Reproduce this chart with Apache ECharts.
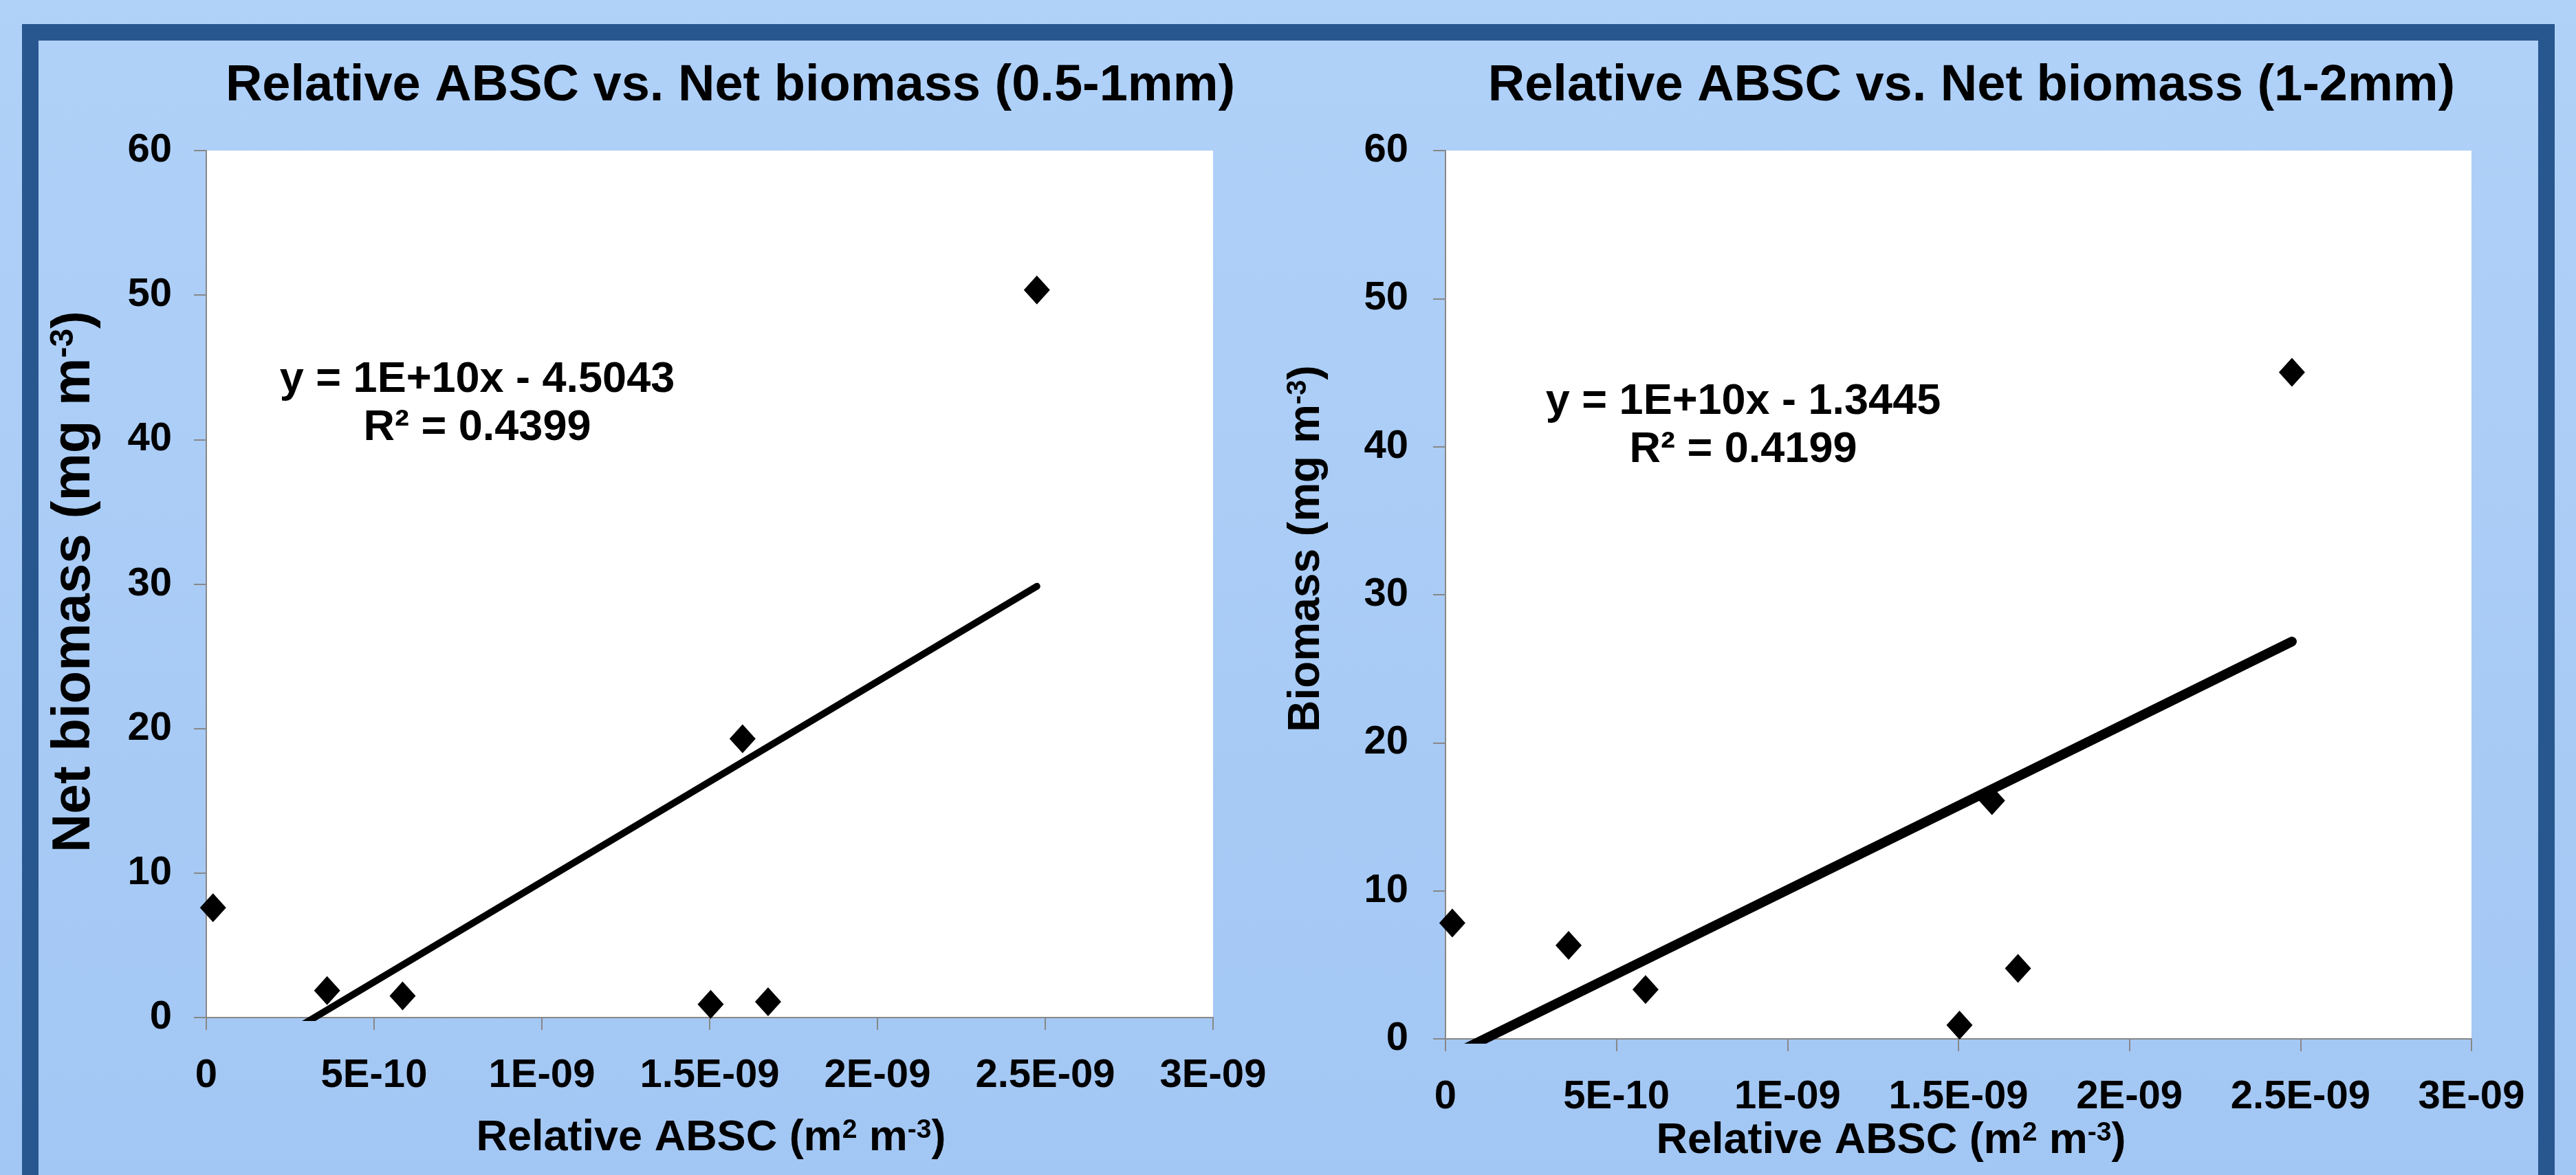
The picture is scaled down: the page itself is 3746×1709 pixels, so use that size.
<!DOCTYPE html>
<html><head><meta charset="utf-8">
<style>html,body{margin:0;padding:0;background:#AACCF6;} #c{width:3746px;height:1709px;}</style>
<script src="https://cdn.jsdelivr.net/npm/echarts@6/dist/echarts.min.js"></script>
</head><body><div id="c"></div>
<script>
// ---- data ----
const absc = [2e-11, 3.6e-10, 5.85e-10, 1.503e-9, 1.598e-9, 1.674e-9, 2.475e-9];
const netBiomassFine = [7.6, 1.87, 1.5, 0.91, 19.3, 1.09, 50.35];     // 0.5-1mm
const biomassCoarse = [7.82, 6.31, 3.33, 0.93, 16.09, 4.76, 45.02];   // 1-2mm
const xTickLabels = ['0', '5E-10', '1E-09', '1.5E-09', '2E-09', '2.5E-09', '3E-09'];
const yTickLabels = ['0', '10', '20', '30', '40', '50', '60'];
const chartTitles = ['Relative ABSC vs. Net biomass (0.5-1mm)', 'Relative ABSC vs. Net biomass (1-2mm)'];
const equationsFine = ['y = 1E+10x - 4.5043', 'R² = 0.4399'];
const equationsCoarse = ['y = 1E+10x - 1.3445', 'R² = 0.4199'];

const FONT = '"Liberation Sans", Arial, Helvetica, sans-serif';

function linFit(xs, ys) {
  const n = xs.length;
  const mx = xs.reduce((a, b) => a + b, 0) / n;
  const my = ys.reduce((a, b) => a + b, 0) / n;
  let sxy = 0, sxx = 0;
  for (let i = 0; i < n; i++) { sxy += (xs[i] - mx) * (ys[i] - my); sxx += (xs[i] - mx) * (xs[i] - mx); }
  const b = sxy / sxx, a = my - b * mx;
  const x0 = Math.min(...xs), x1 = Math.max(...xs);
  return [[x0, a + b * x0], [x1, a + b * x1]];
}

const chart = echarts.init(document.getElementById('c'), null, { renderer: 'canvas' });

function xAxisCfg(gi) {
  return {
    type: 'value', gridIndex: gi, min: 0, max: 3e-9, interval: 5e-10,
    axisLine: { show: true, lineStyle: { color: '#888888', width: 2 } },
    axisTick: { show: true, length: 18, inside: false, lineStyle: { color: '#888888', width: 2 } },
    splitLine: { show: false },
    axisLabel: {
      margin: 56, fontSize: 58, fontWeight: 'bold', fontFamily: FONT, color: '#000',
      formatter: v => xTickLabels[Math.round(v / 5e-10)]
    }
  };
}
function yAxisCfg(gi, margin) {
  return {
    type: 'value', gridIndex: gi, min: 0, max: 60, interval: 10,
    axisLine: { show: true, lineStyle: { color: '#888888', width: 2 } },
    axisTick: { show: true, length: 18, inside: false, lineStyle: { color: '#888888', width: 2 } },
    splitLine: { show: false },
    axisLabel: {
      margin: margin, fontSize: 58, fontWeight: 'bold', fontFamily: FONT, color: '#000',
      formatter: v => yTickLabels[Math.round(v / 10)]
    }
  };
}

function txt(x, y, text, size, extra) {
  return Object.assign({
    type: 'text', x: x, y: y, z: 10,
    style: { text: text, fontSize: size, fontWeight: 'bold', fontFamily: FONT, fill: '#000', align: 'center', verticalAlign: 'middle' }
  }, extra || {});
}
function richTxt(x, y, parts, size, rotation) {
  const rich = {
    a: { fontSize: size, fontWeight: 'bold', fontFamily: FONT, fill: '#000' },
    s: { fontSize: Math.round(size * 0.62), fontWeight: 'bold', fontFamily: FONT, fill: '#000', verticalAlign: 'top' }
  };
  return {
    type: 'text', x: x, y: y, z: 10, rotation: rotation || 0,
    style: { text: parts, rich: rich, align: 'center', verticalAlign: 'middle', fontSize: size, fontWeight: 'bold', fontFamily: FONT, fill: '#000' }
  };
}

const option = {
  animation: false,
  backgroundColor: {
    type: 'linear', x: 0, y: 0, x2: 0, y2: 1,
    colorStops: [{ offset: 0, color: '#B0D1F8' }, { offset: 1, color: '#A3C7F4' }]
  },
  grid: [
    { left: 300, top: 219, width: 1464, height: 1261, show: true, backgroundColor: '#FFFFFF', borderWidth: 0 },
    { left: 2102, top: 219, width: 1492, height: 1292, show: true, backgroundColor: '#FFFFFF', borderWidth: 0 }
  ],
  xAxis: [xAxisCfg(0), xAxisCfg(1)],
  yAxis: [yAxisCfg(0, 50), yAxisCfg(1, 54)],
  series: [
    {
      type: 'line', xAxisIndex: 0, yAxisIndex: 0, data: linFit(absc, netBiomassFine),
      symbol: 'none', clip: true, silent: true, z: 2,
      lineStyle: { color: '#000', width: 10, cap: 'round' }
    },
    {
      type: 'scatter', xAxisIndex: 0, yAxisIndex: 0, z: 3,
      data: absc.map((x, i) => [x, netBiomassFine[i]]),
      symbol: 'diamond', symbolSize: [38, 42],
      itemStyle: { color: '#000', borderWidth: 0, opacity: 1 }
    },
    {
      type: 'line', xAxisIndex: 1, yAxisIndex: 1, data: linFit(absc, biomassCoarse),
      symbol: 'none', clip: true, silent: true, z: 2,
      lineStyle: { color: '#000', width: 14, cap: 'round' }
    },
    {
      type: 'scatter', xAxisIndex: 1, yAxisIndex: 1, z: 3,
      data: absc.map((x, i) => [x, biomassCoarse[i]]),
      symbol: 'diamond', symbolSize: [38, 42],
      itemStyle: { color: '#000', borderWidth: 0, opacity: 1 }
    }
  ],
  graphic: [
    { type: 'rect', z: 1, shape: { x: 44, y: 47, width: 3659, height: 1900 },
      style: { fill: 'rgba(0,0,0,0)', stroke: '#28578F', lineWidth: 24 } },
    txt(1062, 126, chartTitles[0], 74),
    txt(2867, 126, chartTitles[1], 74),
    txt(694, 553, equationsFine[0], 63),
    txt(694, 623, equationsFine[1], 63),
    txt(2535, 585, equationsCoarse[0], 63),
    txt(2535, 655, equationsCoarse[1], 63),
    richTxt(1034, 1656, '{a|Relative ABSC (m}{s|2}{a| m}{s|-3}{a|)}', 63),
    richTxt(2750, 1660, '{a|Relative ABSC (m}{s|2}{a| m}{s|-3}{a|)}', 63),
    richTxt(108, 846, '{a|Net biomass (mg m}{s|-3}{a|)}', 78, Math.PI / 2),
    richTxt(1900, 798, '{a|Biomass (mg m}{s|-3}{a|)}', 64, Math.PI / 2)
  ]
};
chart.setOption(option);
</script>
</body></html>
